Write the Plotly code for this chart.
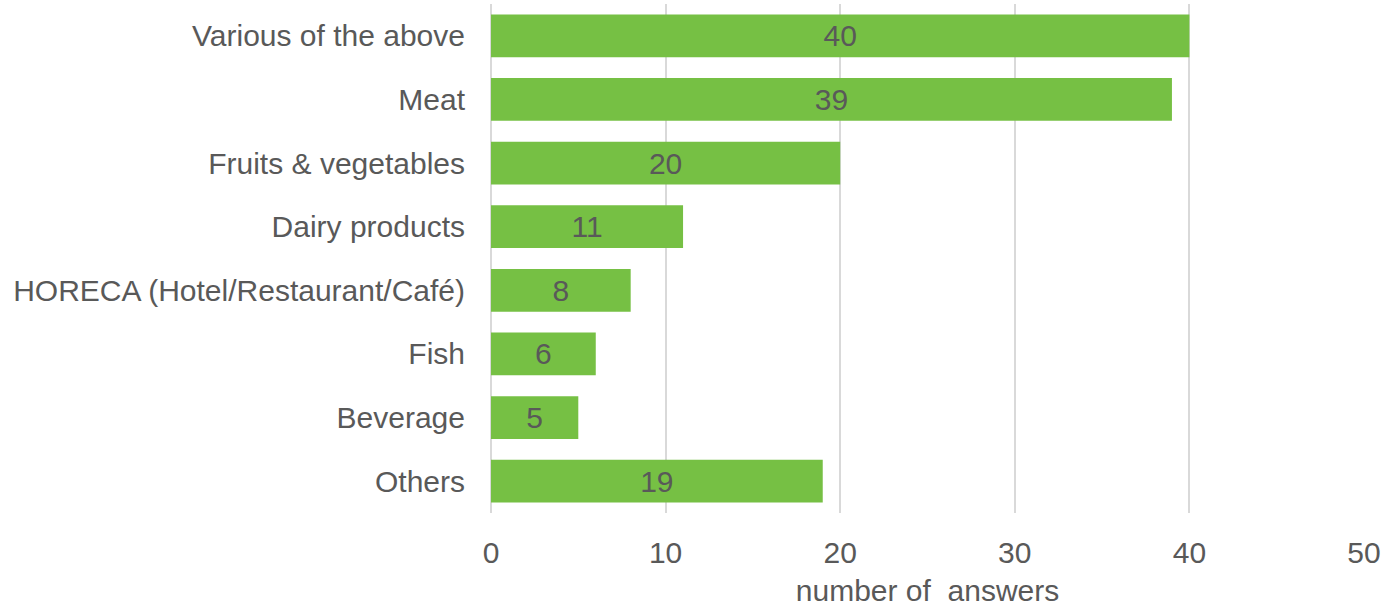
import plotly.graph_objects as go

categories = ["Various of the above", "Meat", "Fruits & vegetables", "Dairy products",
              "HORECA (Hotel/Restaurant/Café)", "Fish", "Beverage", "Others"]
values = [40, 39, 20, 11, 8, 6, 5, 19]
x_ticks = [0, 10, 20, 30, 40, 50]

GRAY = "#595959"
FONT = "Liberation Sans, Arial, sans-serif"
FS = 30

fig = go.Figure(go.Bar(
    x=values, y=categories, orientation="h",
    marker=dict(color="#76C044", line=dict(width=0)),
    text=[str(v) for v in values], textposition="inside", insidetextanchor="middle",
    textfont=dict(color=GRAY, size=FS, family=FONT),
    textangle=0,
))

fig.update_layout(
    width=1385, height=607,
    margin=dict(l=491, r=21, t=4, b=94),
    paper_bgcolor="white", plot_bgcolor="white",
    bargap=0.33,
    showlegend=False,
    font=dict(family=FONT, color=GRAY, size=FS),
)
fig.update_xaxes(
    range=[0, 50], tickvals=x_ticks, showgrid=True, gridcolor="#D9D9D9", gridwidth=2,
    zeroline=True, zerolinecolor="#D9D9D9", zerolinewidth=2, showline=False,
    ticks="outside", ticklen=13, tickcolor="rgba(0,0,0,0)",
    tickfont=dict(size=FS, color=GRAY, family=FONT),
    title=dict(text="number of\u00a0\u00a0answers", font=dict(size=FS, color=GRAY, family=FONT), standoff=13),
)
fig.update_yaxes(
    categoryorder="array", categoryarray=categories, autorange="reversed",
    showgrid=False, zeroline=False, showline=False,
    ticks="outside", ticklen=19, tickcolor="rgba(0,0,0,0)",
    tickfont=dict(size=FS, color=GRAY, family=FONT),
)

fig.write_html("out.html", config={"displayModeBar": False},
               post_script="document.body.style.margin='0';")
